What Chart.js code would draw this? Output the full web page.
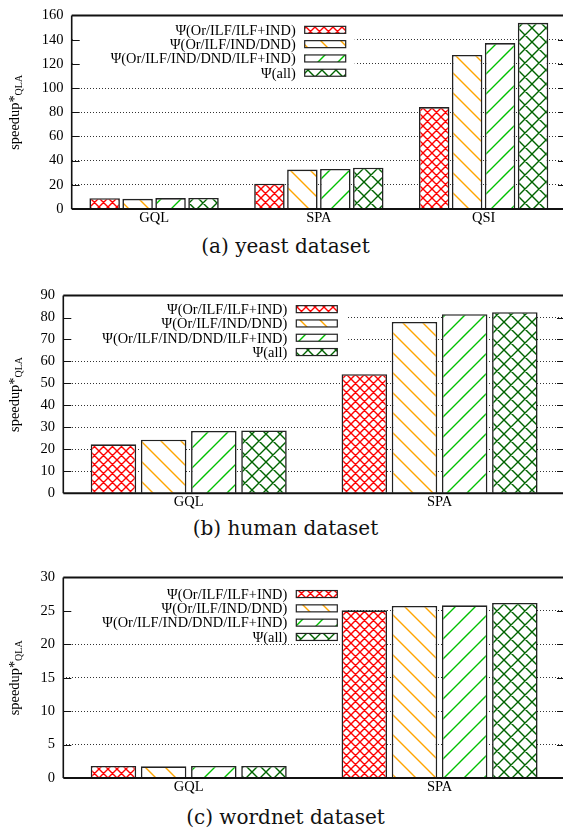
<!DOCTYPE html>
<html>
<head>
<meta charset="utf-8">
<script src="https://cdn.jsdelivr.net/npm/chart.js@4.4.0/dist/chart.umd.min.js"></script>
<style>
  html, body { margin: 0; padding: 0; background: #fff; overflow: hidden; }
  #page { position: relative; width: 563px; height: 832px; overflow: hidden; }
  canvas { position: absolute; left: 0; }
  .cap { position: absolute; left: 0; width: 571px; text-align: center; font-family: 'DejaVu Serif', serif;
         font-size: 20px; line-height: 24px; color: #111; }
</style>
</head>
<body>
<div id="page">
  <canvas id="yeast" width="570" height="232" style="top:0px"></canvas>
  <div class="cap" style="top:234px">(a) yeast dataset</div>
  <canvas id="human" width="570" height="236" style="top:280px"></canvas>
  <div class="cap" style="top:516px">(b) human dataset</div>
  <canvas id="wordnet" width="570" height="240" style="top:562px"></canvas>
  <div class="cap" style="top:805px">(c) wordnet dataset</div>
</div>
<script>
// ---- data ----
const seriesNames = ['Ψ(Or/ILF/ILF+IND)', 'Ψ(Or/ILF/IND/DND)', 'Ψ(Or/ILF/IND/DND/ILF+IND)', 'Ψ(all)'];

const yeastGroups = ['GQL', 'SPA', 'QSI'];
const yeastOrIlfInd = [8.9, 20.9, 84.3];
const yeastOrIlfIndDnd = [8.4, 32.6, 127.4];
const yeastOrIlfIndDndIlfInd = [9.0, 33.1, 137.2];
const yeastAll = [9.2, 34.2, 154.0];
const yeastTicks = [0, 20, 40, 60, 80, 100, 120, 140, 160];

const humanGroups = ['GQL', 'SPA'];
const humanOrIlfInd = [22.3, 54.2];
const humanOrIlfIndDnd = [24.4, 78.0];
const humanOrIlfIndDndIlfInd = [28.4, 81.5];
const humanAll = [28.6, 82.4];
const humanTicks = [0, 10, 20, 30, 40, 50, 60, 70, 80, 90];

const wordnetGroups = ['GQL', 'SPA'];
const wordnetOrIlfInd = [1.8, 25.1];
const wordnetOrIlfIndDnd = [1.75, 25.75];
const wordnetOrIlfIndDndIlfInd = [1.8, 25.85];
const wordnetAll = [1.8, 26.2];
const wordnetTicks = [0, 5, 10, 15, 20, 25, 30];

// ---- fill patterns (gnuplot style hatching on white) ----
function makePattern(kind, color, size) {
  const c = document.createElement('canvas');
  c.width = c.height = size;
  const g = c.getContext('2d');
  g.fillStyle = '#fff';
  g.fillRect(0, 0, size, size);
  g.strokeStyle = color;
  g.lineWidth = 1.4;
  g.beginPath();
  if (kind === '\\' || kind === 'x') {
    g.moveTo(-1, -1); g.lineTo(size + 1, size + 1);
    g.moveTo(size - 1, -1); g.lineTo(size + 1, 1);
    g.moveTo(-1, size - 1); g.lineTo(1, size + 1);
  }
  if (kind === '/' || kind === 'x') {
    g.moveTo(-1, size + 1); g.lineTo(size + 1, -1);
    g.moveTo(-1, 1); g.lineTo(1, -1);
    g.moveTo(size - 1, size + 1); g.lineTo(size + 1, size - 1);
  }
  g.stroke();
  return g.createPattern(c, 'repeat');
}

const fills = [
  makePattern('x', '#ff0000', 9),
  makePattern('\\', '#ffa500', 20),
  makePattern('/', '#00c000', 20),
  makePattern('x', '#006400', 14),
];

const serif = '"Liberation Serif", "Times New Roman", serif';

// white key box + key entries, like gnuplot's opaque key
const keyPlugin = {
  id: 'key',
  beforeDatasetsDraw(chart) {
    const { ctx, chartArea: a } = chart;
    ctx.save();
    ctx.fillStyle = '#fff';
    ctx.fillRect(a.left + 1, a.top + 1, 282, 64);
    ctx.restore();
  },
  afterDatasetsDraw(chart, args, opts) {
    const { ctx, chartArea: a } = chart;
    ctx.save();
    ctx.font = '14.4px ' + serif;
    ctx.textAlign = 'right';
    ctx.textBaseline = 'middle';
    seriesNames.forEach((name, i) => {
      const y = a.top + opts.top + 14.3 * i;
      ctx.fillStyle = '#000';
      ctx.fillText(name, a.left + 224, y + 1);
      ctx.fillStyle = fills[i];
      ctx.fillRect(a.left + 233, y - 3.5, 41, 7);
      ctx.strokeStyle = '#222';
      ctx.lineWidth = 1.2;
      ctx.strokeRect(a.left + 233, y - 3.5, 41, 7);
    });
    ctx.restore();
  },
};

// plot border and inward tics
const framePlugin = {
  id: 'frame',
  afterDatasetsDraw(chart) {
    const { ctx, chartArea: a, scales } = chart;
    const y = scales.y;
    ctx.save();
    ctx.strokeStyle = '#111';
    ctx.lineWidth = 1;
    ctx.beginPath();
    y.ticks.forEach(t => {
      if (t.value <= y.min || t.value >= y.max) return;
      const py = Math.round(y.getPixelForValue(t.value)) + 0.5;
      ctx.moveTo(a.left, py); ctx.lineTo(a.left + 8, py);
      ctx.moveTo(a.right, py); ctx.lineTo(a.right - 8, py);
    });
    ctx.stroke();
    ctx.lineWidth = 2;
    ctx.beginPath();
    ctx.moveTo(a.left, a.top); ctx.lineTo(a.right, a.top);
    ctx.moveTo(a.left, a.bottom); ctx.lineTo(a.right, a.bottom);
    ctx.stroke();
    ctx.lineWidth = 1.6;
    ctx.beginPath();
    ctx.moveTo(a.left, a.top); ctx.lineTo(a.left, a.bottom);
    ctx.moveTo(a.right, a.top); ctx.lineTo(a.right, a.bottom);
    ctx.stroke();
    ctx.restore();
  },
};

// rotated y title with subscript: speedup*_QLA
const yTitlePlugin = {
  id: 'ytitle',
  afterDraw(chart) {
    const { ctx, chartArea: a } = chart;
    const main = 'speedup*', sub = 'QLA';
    ctx.save();
    ctx.fillStyle = '#000';
    ctx.font = '14.4px ' + serif;
    const w1 = ctx.measureText(main).width;
    ctx.font = '10px ' + serif;
    const w2 = ctx.measureText(sub).width;
    ctx.translate(15, (a.top + a.bottom) / 2);
    ctx.rotate(-Math.PI / 2);
    ctx.textBaseline = 'middle';
    ctx.textAlign = 'left';
    const x0 = -(w1 + w2) / 2;
    ctx.font = '14.4px ' + serif;
    ctx.fillText(main, x0, 0);
    ctx.font = '10px ' + serif;
    ctx.fillText(sub, x0 + w1, 4.5);
    ctx.restore();
  },
};

function speedupChart(id, groups, values, ticks, box) {
  const yMax = ticks[ticks.length - 1];
  const step = ticks[1] - ticks[0];
  const canvas = document.getElementById(id);
  return new Chart(canvas, {
    type: 'bar',
    data: {
      labels: groups,
      datasets: values.map((v, i) => ({
        label: seriesNames[i],
        data: v,
        backgroundColor: fills[i],
        borderColor: '#222',
        borderWidth: 1.6,
        categoryPercentage: 0.8,
        barPercentage: box.barPct,
      })),
    },
    options: {
      responsive: false,
      animation: false,
      devicePixelRatio: 1,
      layout: { padding: { top: box.top, right: box.right, left: 0, bottom: 0 } },
      plugins: {
        legend: { display: false },
        tooltip: { enabled: false },
        key: { top: box.keyTop },
      },
      scales: {
        x: {
          grid: { display: false, drawTicks: false },
          border: { display: false },
          ticks: { color: '#000', padding: 2, font: { family: serif, size: 14.5, lineHeight: 1 } },
          afterFit: s => { s.height = box.xHeight; },
        },
        y: {
          min: 0,
          max: yMax,
          afterBuildTicks: s => { s.ticks = ticks.map(v => ({ value: v })); },
          ticks: { stepSize: step, color: '#000', padding: 8.3, font: { family: serif, size: 14.5, lineHeight: 1 } },
          grid: {
            drawTicks: false,
            lineWidth: 1,
            color: c => (c.tick && (c.tick.value === 0 || c.tick.value === yMax)) ? 'rgba(0,0,0,0)' : '#333',
          },
          border: { display: false, dash: [1, 2] },
          afterFit: s => { s.width = box.left; },
        },
      },
    },
    plugins: [keyPlugin, framePlugin, yTitlePlugin],
  });
}

speedupChart('yeast', yeastGroups,
  [yeastOrIlfInd, yeastOrIlfIndDnd, yeastOrIlfIndDndIlfInd, yeastAll], yeastTicks,
  { left: 71.7, top: 9, right: 4, xHeight: 23, keyTop: 14.3, barPct: 0.925 });

speedupChart('human', humanGroups,
  [humanOrIlfInd, humanOrIlfIndDnd, humanOrIlfIndDndIlfInd, humanAll], humanTicks,
  { left: 63.3, top: 12.7, right: 5, xHeight: 22.7, keyTop: 13.6, barPct: 0.907 });

speedupChart('wordnet', wordnetGroups,
  [wordnetOrIlfInd, wordnetOrIlfIndDnd, wordnetOrIlfIndDndIlfInd, wordnetAll], wordnetTicks,
  { left: 63.3, top: 15, right: 5, xHeight: 24, keyTop: 16.5, barPct: 0.907 });
</script>
</body>
</html>
